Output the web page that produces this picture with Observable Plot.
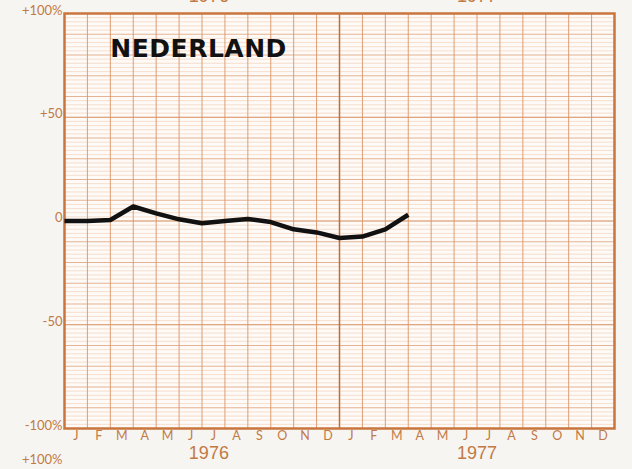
<!DOCTYPE html>
<html>
<head>
<meta charset="utf-8">
<script src="https://cdn.jsdelivr.net/npm/d3@7"></script>
<script src="https://cdn.jsdelivr.net/npm/@observablehq/plot@0.6"></script>
<style>
  html, body { margin: 0; padding: 0; background: #f6f5f2; }
  #chart { width: 632px; height: 469px; overflow: hidden; }
  svg { display: block; }
  .nl-title text { letter-spacing: 0.5px; }
</style>
</head>
<body>
<div id="chart"></div>
<script>
// Month letters (two years), year labels, y tick labels
const months = ["J","F","M","A","M","J","J","A","S","O","N","D"];
const years = ["1976", "1977"];
const yearPos = [6.3, 18.0];
const yTicks = [100, 50, 0, -50, -100];
const yTickLabels = ["+100%", "+50", "0", "-50", "-100%"];
const title = "NEDERLAND";

// Series: % change, one value per month boundary (0 = 1 Jan 1976 ... 15 = 1 Apr 1977)
const monthIndex = [0,1,2,3,4,5,6,7,8,9,10,11,12,13,14,15];
const values = [0, 0, 0.5, 7, 3.7, 0.8, -1.1, 0, 1, -0.5, -4, -5.5, -8.2, -7.5, -4, 3];

const series = monthIndex.map((m, i) => ({m, v: values[i]}));
const allMonths = [...months, ...months];
const monthTicks = allMonths.map((d, i) => i + 0.5);
const boundaries = d3.range(1, 24);
const minorY = d3.range(-100, 101, 2).filter(v => v % 10 !== 0);
const majorY = d3.range(-100, 101, 10).filter(v => v % 50 !== 0);
const strongY = [-50, 0, 50];

const orange = "#c9753d";
const textOrange = "#c27a45";

const chart = Plot.plot({
  width: 632,
  height: 469,
  marginLeft: 64,
  marginRight: 18,
  marginTop: 13,
  marginBottom: 41,
  style: {background: "transparent", overflow: "visible"},
  x: {domain: [0, 24]},
  y: {domain: [-100, 100]},
  marks: [
    Plot.frame({fill: "#fdfaf7", stroke: "none"}),
    Plot.ruleY(minorY, {stroke: "#f3d2ba", strokeWidth: 0.7}),
    Plot.ruleY(majorY, {stroke: "#e2aa84", strokeWidth: 0.9}),
    Plot.ruleY(strongY, {stroke: "#d68a57", strokeWidth: 1.1}),
    Plot.ruleX(boundaries, {stroke: "#d99468", strokeWidth: 0.9}),
    Plot.ruleX([12], {stroke: "#c46e36", strokeWidth: 1.5}),
    Plot.frame({stroke: orange, strokeWidth: 2.5}),
    Plot.axisY(yTicks, {
      tickSize: 0, tickPadding: 2, dy: -3,
      tickFormat: (d, i) => yTickLabels[yTicks.indexOf(d)],
      fill: textOrange, fontSize: 13, fontFamily: "Lato", label: null
    }),
    Plot.axisX(monthTicks, {
      tickSize: 0, tickPadding: 3,
      tickFormat: (d, i) => allMonths[Math.floor(d)],
      fill: textOrange, fontSize: 12.5, fontFamily: "Lato", label: null
    }),
    Plot.text(years, {
      x: (d, i) => yearPos[i], y: -100, text: d => d,
      dy: 25, fill: textOrange, fontSize: 18, fontFamily: "Liberation Sans",
      lineAnchor: "middle", clip: false
    }),
    Plot.text([title], {
      x: 2, y: 83, text: d => d, textAnchor: "start",
      fill: "#111", fontSize: 25, fontWeight: "bold", fontFamily: "DejaVu Sans",
      className: "nl-title"
    }),
    Plot.line(series, {
      x: "m", y: "v", stroke: "#111", strokeWidth: 4.5,
      strokeLinejoin: "round", strokeLinecap: "butt"
    }),
    // partially visible labels of the neighbouring charts on the scanned page
    Plot.text(years, {
      x: (d, i) => yearPos[i], y: 108.2, text: d => d,
      fill: textOrange, fontSize: 18, fontFamily: "Liberation Sans", clip: false
    }),
    Plot.text(["+100%"], {
      x: 0, y: -115.3, text: d => d, textAnchor: "end", dx: -2,
      fill: textOrange, fontSize: 13, fontFamily: "Lato", clip: false
    })
  ]
});
document.getElementById("chart").appendChild(chart);
</script>
</body>
</html>
